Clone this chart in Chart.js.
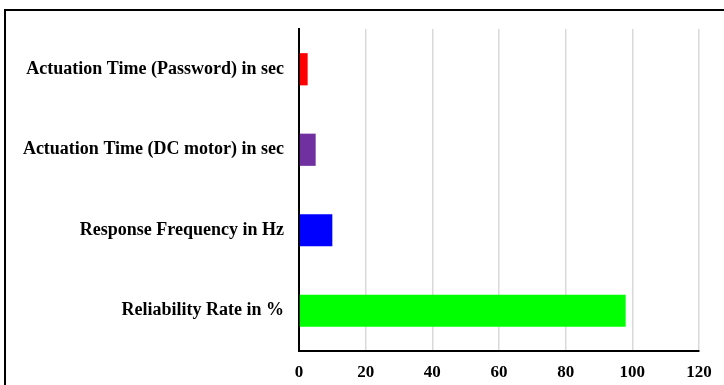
<!DOCTYPE html>
<html>
<head>
<meta charset="utf-8">
<script src="https://cdn.jsdelivr.net/npm/chart.js@4/dist/chart.umd.min.js"></script>
<style>
  html, body { margin: 0; padding: 0; background: #fff; overflow: hidden; }
  #frame { position: absolute; left: 4px; top: 9px; width: 800px; height: 500px; border: 2px solid #000; box-sizing: border-box; }
  #c { position: absolute; left: 0; top: 0; }
</style>
</head>
<body>
<div id="frame"></div>
<canvas id="c" width="724" height="385"></canvas>
<script>
const categories = [
  "Actuation Time (Password) in sec",
  "Actuation Time (DC motor) in sec",
  "Response Frequency in Hz",
  "Reliability Rate in %"
];
const values = [2.6, 5, 10, 98];
const barColors = ["#FF0000", "#7030A0", "#0000FF", "#00FF00"];
const xTicks = [0, 20, 40, 60, 80, 100, 120];

const labelFont = { family: "'Liberation Serif', 'Times New Roman', serif", weight: "bold", size: 18 };
const tickFont = { family: "'Liberation Serif', 'Times New Roman', serif", weight: "bold", size: 17 };

new Chart(document.getElementById('c'), {
  type: 'bar',
  data: {
    labels: categories,
    datasets: [{
      data: values,
      backgroundColor: barColors,
      borderWidth: 0,
      barPercentage: 0.8,
      categoryPercentage: 0.5
    }]
  },
  options: {
    indexAxis: 'y',
    responsive: false,
    animation: false,
    devicePixelRatio: 1,
    layout: { padding: { left: 0, top: 29, right: 25, bottom: 0 } },
    plugins: { legend: { display: false }, tooltip: { enabled: false } },
    scales: {
      x: {
        min: 0, max: 120,
        afterBuildTicks: (s) => { s.ticks = xTicks.map(v => ({ value: v })); },
        afterFit: (s) => { s.height = 34; },
        grid: { color: '#d9d9d9', lineWidth: 1.5, drawTicks: false },
        border: { display: true, color: '#000', width: 2 },
        ticks: { color: '#000', font: tickFont, padding: 11 }
      },
      y: {
        afterFit: (s) => { s.width = 299; },
        grid: { display: false, drawTicks: false },
        border: { display: true, color: '#000', width: 2 },
        ticks: { color: '#000', font: labelFont, padding: 15 }
      }
    }
  }
});
</script>
</body>
</html>
